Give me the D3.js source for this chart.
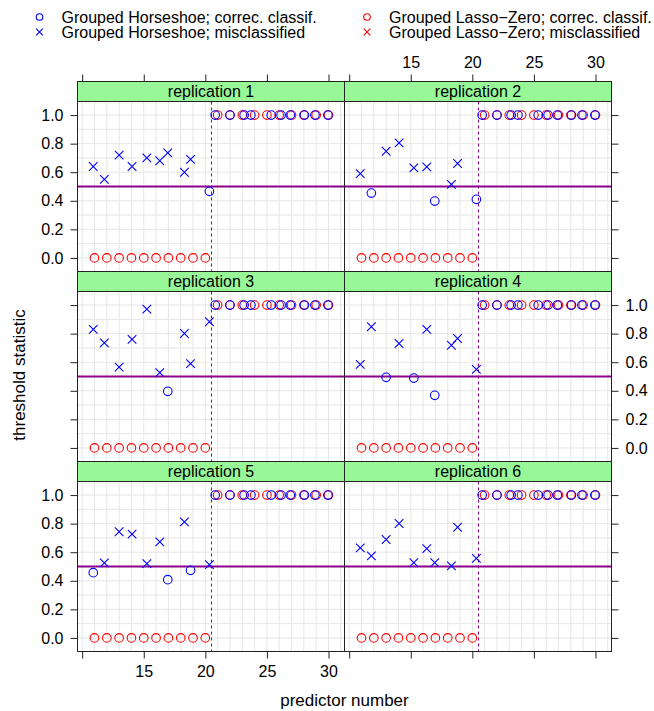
<!DOCTYPE html>
<html>
<head>
<meta charset="utf-8">
<script src="https://cdn.jsdelivr.net/npm/d3@7"></script>
<style>
  body { margin: 0; background: #fff; }
  svg text { font-family: "Liberation Sans", Arial, Helvetica, sans-serif; fill: #000; }
</style>
</head>
<body>
<script>
// threshold statistic per predictor, 6 replications, two methods

const replications = ["replication 1", "replication 2", "replication 3", "replication 4", "replication 5", "replication 6"];

// Grouped Lasso-Zero: predictor numbers and threshold statistic (same in every replication)
const lassoX = [11, 12, 13, 14, 15, 16, 17, 18, 19, 20, 21, 22, 23, 24, 25, 26, 27, 28, 29, 30];
const lassoY = [0, 0, 0, 0, 0, 0, 0, 0, 0, 0, 1, 1, 1, 1, 1, 1, 1, 1, 1, 1];

// Grouped Horseshoe: plotted positions (slightly offset from the integers)
const horseX = [10.9, 11.8, 13.0, 14.05, 15.25, 16.3, 16.95, 18.3, 18.8, 20.33,
                20.8, 22.0, 23.15, 23.7, 25.35, 26.15, 26.9, 28.05, 28.9, 29.95];
const horseY1 = [0.64, 0.55, 0.72, 0.64, 0.70, 0.68, 0.735, 0.60, 0.69, 0.466, 1, 1, 1, 1, 1, 1, 1, 1, 1, 1];
const horseY2 = [0.59, 0.454, 0.747, 0.805, 0.63, 0.637, 0.398, 0.515, 0.661, 0.41, 1, 1, 1, 1, 1, 1, 1, 1, 1, 1];
const horseY3 = [0.83, 0.735, 0.566, 0.76, 0.972, 0.527, 0.396, 0.801, 0.59, 0.883, 1, 1, 1, 1, 1, 1, 1, 1, 1, 1];
const horseY4 = [0.585, 0.848, 0.494, 0.731, 0.489, 0.83, 0.368, 0.719, 0.766, 0.55, 1, 1, 1, 1, 1, 1, 1, 1, 1, 1];
const horseY5 = [0.457, 0.525, 0.743, 0.727, 0.52, 0.672, 0.408, 0.812, 0.473, 0.513, 1, 1, 1, 1, 1, 1, 1, 1, 1, 1];
const horseY6 = [0.63, 0.574, 0.689, 0.801, 0.527, 0.625, 0.527, 0.504, 0.775, 0.557, 1, 1, 1, 1, 1, 1, 1, 1, 1, 1];
const horseY = [horseY1, horseY2, horseY3, horseY4, horseY5, horseY6];

const threshold = 0.5;
const boundary = 20.5;   // predictors above this are the true signals

const xTicks = [10, 15, 20, 25, 30];
const xTickLabels = ["", "15", "20", "25", "30"];
const yTicks = [0, 0.2, 0.4, 0.6, 0.8, 1.0];

const legendItems = [
    { label: "Grouped Horseshoe; correc. classif.", color: "blue", shape: "o" },
    { label: "Grouped Horseshoe; misclassified", color: "blue", shape: "x" },
    { label: "Grouped Lasso\u2212Zero; correc. classif.", color: "red", shape: "o" },
    { label: "Grouped Lasso\u2212Zero; misclassified", color: "red", shape: "x" }
];

const W = 654, H = 711;
const panelLeft = 77.5, panelTop = 81.5;
const colW = 267, stripH = 20, panelH = 170;
const fs = 16;

const svg = d3.select("body").append("svg").attr("width", W).attr("height", H);

const x = d3.scaleLinear().domain([9.62, 31.3]).range([0, colW]);
const y = d3.scaleLinear().domain([-0.095, 1.095]).range([panelH, 0]);

function drawSymbol(g, px, py, shape, color, r) {
    if (shape === "o") {
        g.append("circle").attr("cx", px).attr("cy", py).attr("r", r)
            .attr("fill", "none").attr("stroke", color).attr("stroke-width", 1.1);
    } else {
        g.append("path")
            .attr("d", `M${px - r},${py - r}L${px + r},${py + r}M${px - r},${py + r}L${px + r},${py - r}`)
            .attr("stroke", color).attr("stroke-width", 1.1).attr("fill", "none");
    }
}

function isCorrect(xv, yv) {
    return xv < boundary ? yv < threshold : yv > threshold;
}

// legend
const legX = [39.5, 367];
const legY = [17, 32];
legendItems.forEach((d, i) => {
    const cx = legX[Math.floor(i / 2)], cy = legY[i % 2];
    drawSymbol(svg, cx, cy, d.shape, d.color, 3.3);
    svg.append("text").attr("x", cx + 22).attr("y", cy).attr("dy", "0.35em")
        .attr("font-size", fs).text(d.label);
});

function styleAxis(a) {
    a.select(".domain").remove();
    a.selectAll("text").attr("font-size", fs).attr("font-family", null);
    a.selectAll("line").attr("stroke", "#222");
}

replications.forEach((name, i) => {
    const row = Math.floor(i / 2), col = i % 2;
    const ox = panelLeft + col * colW;
    const oy = panelTop + row * (stripH + panelH);
    const g = svg.append("g").attr("transform", `translate(${ox},${oy + stripH})`);

    // strip
    svg.append("rect").attr("x", ox).attr("y", oy).attr("width", colW).attr("height", stripH)
        .attr("fill", "#98f898").attr("stroke", "#222").attr("stroke-width", 1);
    svg.append("text").attr("x", ox + colW / 2).attr("y", oy + stripH / 2).attr("dy", "0.35em")
        .attr("text-anchor", "middle").attr("font-size", fs).text(name);

    // grid
    g.selectAll(".vg").data(d3.range(10, 32)).join("line")
        .attr("x1", d => x(d)).attr("x2", d => x(d)).attr("y1", 0).attr("y2", panelH)
        .attr("stroke", "#e6e6e6").attr("stroke-width", 1);
    g.selectAll(".hg").data(d3.range(0, 11).map(k => k / 10)).join("line")
        .attr("x1", 0).attr("x2", colW).attr("y1", d => y(d)).attr("y2", d => y(d))
        .attr("stroke", "#e6e6e6").attr("stroke-width", 1);

    // reference lines
    g.append("line").attr("x1", 0).attr("x2", colW).attr("y1", y(threshold)).attr("y2", y(threshold))
        .attr("stroke", "#8b008b").attr("stroke-width", 2.2);
    g.append("line").attr("x1", x(boundary)).attr("x2", x(boundary)).attr("y1", 0).attr("y2", panelH)
        .attr("stroke", "#8b008b").attr("stroke-width", 1).attr("stroke-dasharray", "3,3");

    // points: lasso-zero first, horseshoe on top
    lassoX.forEach((xv, k) => {
        const yv = lassoY[k];
        drawSymbol(g, x(xv), y(yv), isCorrect(xv, yv) ? "o" : "x", "red", 4.3);
    });
    horseX.forEach((xv, k) => {
        const yv = horseY[i][k];
        drawSymbol(g, x(xv), y(yv), isCorrect(xv, yv) ? "o" : "x", "blue", 4.3);
    });

    // panel border
    g.append("rect").attr("width", colW).attr("height", panelH)
        .attr("fill", "none").attr("stroke", "#222").attr("stroke-width", 1);

    // y axis: labels alternate left / right
    const labelsLeft = row % 2 === 0;
    const fmt = d3.format(".1f");
    if (col === 0) {
        const a = g.append("g").call(d3.axisLeft(y).tickValues(yTicks)
            .tickFormat(labelsLeft ? fmt : () => "")
            .tickSizeInner(7).tickSizeOuter(0).tickPadding(7));
        styleAxis(a);
    } else {
        const a = g.append("g").attr("transform", `translate(${colW},0)`)
            .call(d3.axisRight(y).tickValues(yTicks)
                .tickFormat(labelsLeft ? () => "" : fmt)
                .tickSizeInner(7).tickSizeOuter(0).tickPadding(7));
        styleAxis(a);
    }

    // x axis: ticks on top of first row, bottom of last row
    if (row === 0) {
        const a = svg.append("g").attr("transform", `translate(${ox},${oy})`)
            .call(d3.axisTop(x).tickValues(xTicks).tickSizeInner(7).tickSizeOuter(0).tickPadding(7)
                .tickFormat((d, j) => col === 1 ? xTickLabels[j] : ""));
        styleAxis(a);
    }
    if (row === 2) {
        const a = svg.append("g").attr("transform", `translate(${ox},${oy + stripH + panelH})`)
            .call(d3.axisBottom(x).tickValues(xTicks).tickSizeInner(7).tickSizeOuter(0).tickPadding(7)
                .tickFormat((d, j) => col === 0 ? xTickLabels[j] : ""));
        styleAxis(a);
    }
});

// axis titles
svg.append("text").attr("x", panelLeft + colW).attr("y", 700).attr("dy", "0.35em")
    .attr("text-anchor", "middle").attr("font-size", 17).text("predictor number");
svg.append("text").attr("transform", `translate(19,375) rotate(-90)`).attr("dy", "0.35em")
    .attr("text-anchor", "middle").attr("font-size", 17).text("threshold statistic");
</script>
</body>
</html>
